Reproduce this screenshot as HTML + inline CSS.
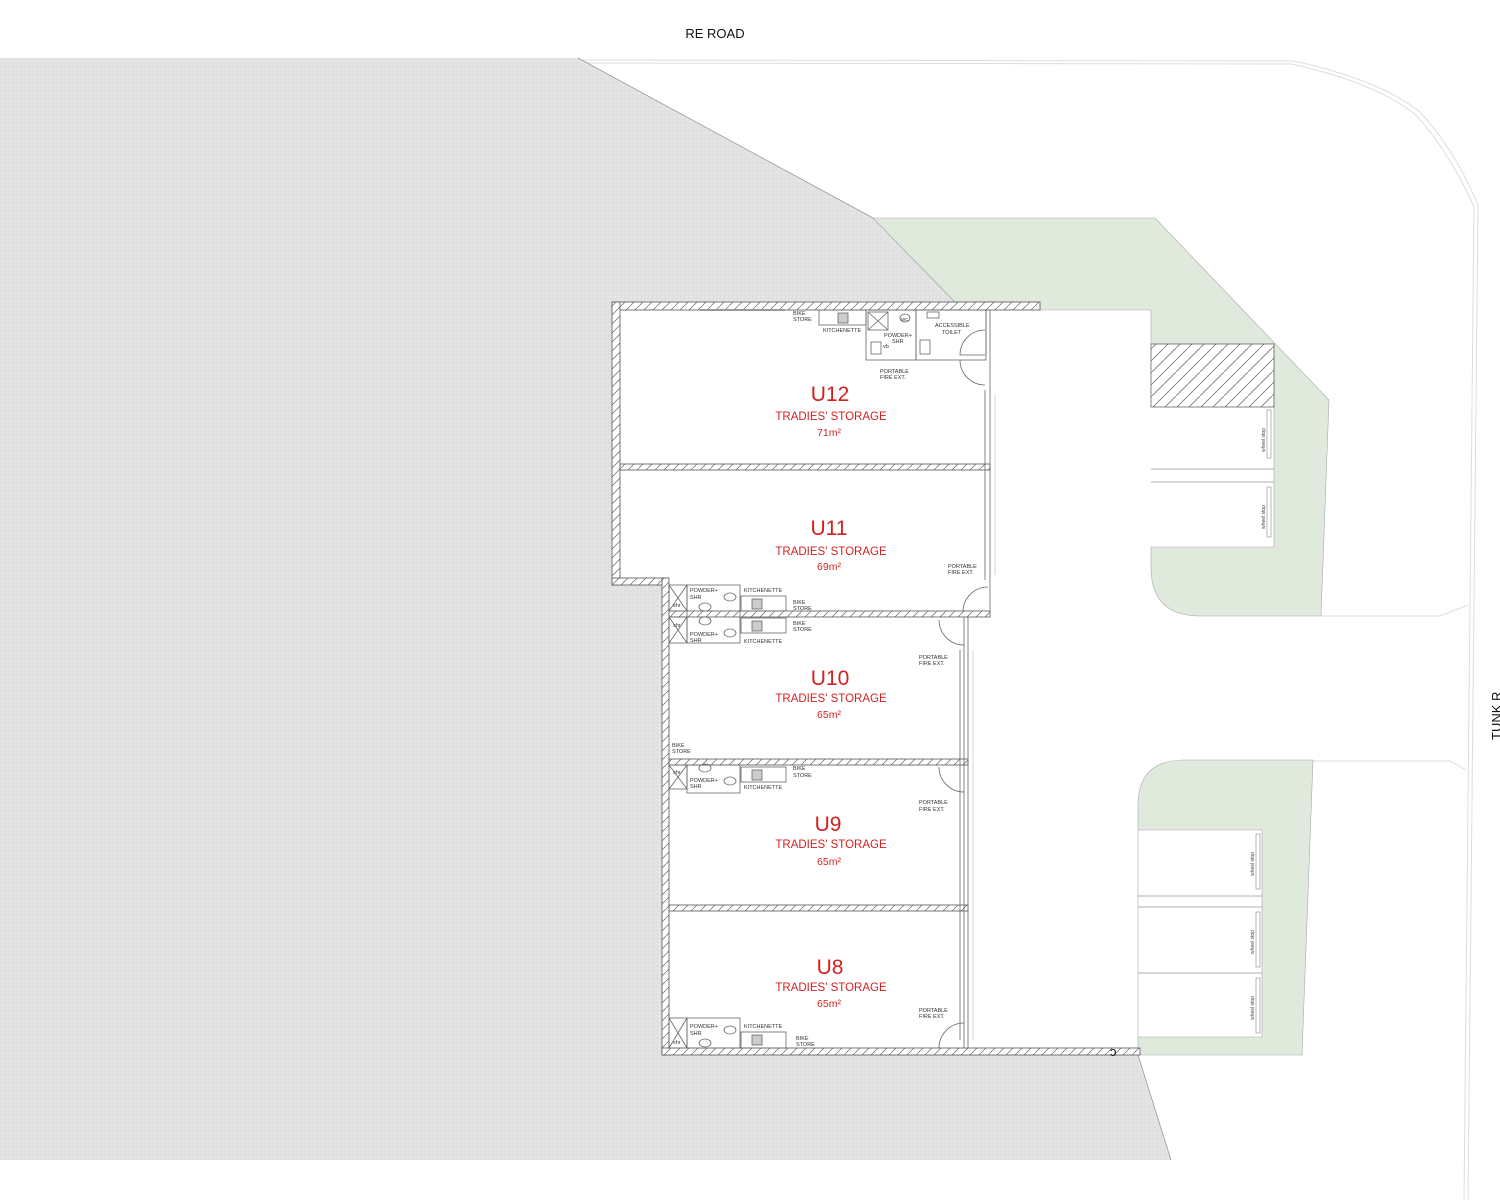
<!DOCTYPE html>
<html><head><meta charset="utf-8"><style>
html,body{margin:0;padding:0;background:#fff;}
svg{display:block;}
text{font-family:"Liberation Sans",sans-serif;}
.s{font-size:5.5px;fill:#333;}
.u{font-size:21px;fill:#d42020;}
.t{font-size:11.5px;fill:#d42020;}
.a{font-size:10.5px;fill:#d42020;}
</style></head><body>
<svg width="1500" height="1200" viewBox="0 0 1500 1200" xmlns="http://www.w3.org/2000/svg">
<defs>
<pattern id="gr" width="4" height="4" patternUnits="userSpaceOnUse">
<rect width="4" height="4" fill="#e7e7e7"/>
<path d="M0 0L4 4M0 2L2 4" stroke="#d8d8d8" stroke-width="0.6"/>
</pattern>
<pattern id="h" width="9" height="9" patternUnits="userSpaceOnUse">
<rect width="9" height="9" fill="#fff"/>
<path d="M0 9L9 0" stroke="#666" stroke-width="0.7"/>
</pattern>
<pattern id="h2" width="12" height="12" patternUnits="userSpaceOnUse">
<rect width="12" height="12" fill="#fff"/>
<path d="M0 12L12 0" stroke="#777" stroke-width="0.8"/>
</pattern>
</defs>
<rect width="1500" height="1200" fill="#fff"/>
<text x="715" y="38" text-anchor="middle" font-size="13" fill="#111">RE ROAD</text>
<text transform="translate(1501,740) rotate(-90)" font-size="13" fill="#111">TUNK R</text>

<!-- road lines -->
<g fill="none" stroke="#ddd" stroke-width="1">
<path d="M578 60 L1294 61 Q1380 80 1420 112 Q1455 150 1478 205 L1468 1200"/>
<path d="M578 63 L1292 64 Q1376 83 1416 115 Q1450 153 1474 207 L1464 1200"/>
<path d="M1321 616 L1440 616 L1468 605"/>
<path d="M1313 761 L1450 761 L1466 770"/>
</g>

<!-- gray site -->
<polygon points="0,58 578,58 873,218 955,302 612,302 612,585 662,585 662,1055 1138,1055 1171,1160 0,1160" fill="url(#gr)"/>
<path d="M578 58 L873 218 L955 302" stroke="#999" fill="none" stroke-width="0.8"/>
<path d="M1138 1055 L1171 1160" stroke="#999" fill="none" stroke-width="0.8"/>

<!-- green areas -->
<path d="M873 218 L1155 218 L1329 400 L1321 616 L1200 616 Q1151 616 1151 567 L1151 547 L1274 547 L1274 344 L1151 344 L1151 310 L1040 310 L1040 302 L955 302 Z" fill="#dfe9dc" stroke="#aaa" stroke-width="0.6"/>
<rect x="1151" y="344" width="123" height="63" fill="url(#h2)" stroke="#666" stroke-width="0.8"/>
<path d="M1138 1055 L1138 806 Q1138 760 1184 760 L1313 760 L1302 1055 Z M1138 1037 L1262 1037 L1262 830 L1138 830 Z" fill="#dfe9dc" fill-rule="evenodd" stroke="#aaa" stroke-width="0.6"/>
<g stroke="#999" stroke-width="0.7">
<line x1="1151" y1="469" x2="1274" y2="469"/><line x1="1151" y1="482" x2="1274" y2="482"/>
<line x1="1138" y1="896" x2="1262" y2="896"/><line x1="1138" y1="907" x2="1262" y2="907"/><line x1="1138" y1="973" x2="1262" y2="973"/>
</g>
<g fill="none" stroke="#888" stroke-width="0.6">
<rect x="1267" y="410" width="4" height="48"/><rect x="1267" y="487" width="4" height="50"/>
<rect x="1256" y="834" width="4" height="55"/><rect x="1256" y="912" width="4" height="55"/><rect x="1256" y="978" width="4" height="55"/>
</g>
<g font-size="5" fill="#444">
<text transform="translate(1265,440) rotate(-90)" text-anchor="middle">wheel stop</text>
<text transform="translate(1265,517) rotate(-90)" text-anchor="middle">wheel stop</text>
<text transform="translate(1254,864) rotate(-90)" text-anchor="middle">wheel stop</text>
<text transform="translate(1254,942) rotate(-90)" text-anchor="middle">wheel stop</text>
<text transform="translate(1254,1008) rotate(-90)" text-anchor="middle">wheel stop</text>
</g>

<!-- building interior white -->
<rect x="620" y="310" width="366" height="270" fill="#fff"/>
<rect x="669" y="580" width="296" height="470" fill="#fff"/>

<!-- walls -->
<g stroke="#555" stroke-width="0.8" fill="url(#h)">
<rect x="612" y="302" width="428" height="8"/>
<rect x="612" y="302" width="8" height="283"/>
<rect x="612" y="578" width="56" height="7"/>
<rect x="662" y="578" width="7" height="477"/>
<rect x="662" y="1048" width="478" height="7"/>
<rect x="620" y="464" width="370" height="6"/>
<rect x="669" y="611" width="321" height="6"/>
<rect x="669" y="759" width="299" height="6"/>
<rect x="669" y="905" width="299" height="6"/>
</g>
<g stroke="#666" stroke-width="0.8" fill="none">
<line x1="986" y1="310" x2="986" y2="355"/><line x1="990" y1="310" x2="990" y2="612"/>
<line x1="985" y1="390" x2="985" y2="580"/><line x1="995" y1="395" x2="995" y2="575" stroke="#ccc"/>
<line x1="964" y1="617" x2="964" y2="1048"/><line x1="968" y1="617" x2="968" y2="1048"/>
<line x1="960" y1="650" x2="960" y2="1040"/><line x1="973" y1="650" x2="973" y2="1040" stroke="#ccc"/>
<path d="M985 330 A25 25 0 0 0 960 355 L985 355"/><path d="M985 385 A25 25 0 0 1 960 360"/>
<path d="M988 587 A25 25 0 0 0 963 612"/>
<path d="M964 645 A25 25 0 0 1 939 620"/>
<path d="M964 792 A25 25 0 0 1 939 767"/>
<path d="M964 1023 A25 25 0 0 0 939 1048"/>
<line x1="700" y1="310" x2="785" y2="310" stroke="#999" stroke-width="2"/>
<rect x="819" y="310" width="47" height="15"/><rect x="838" y="313" width="10" height="10" fill="#ccc"/>
<rect x="866" y="310" width="50" height="50"/><path d="M868 312 L888 330 M888 312 L868 330" />
<rect x="868" y="312" width="20" height="18"/>
<rect x="916" y="310" width="70" height="50"/>
<ellipse cx="905" cy="318" rx="5" ry="4"/><rect x="920" y="340" width="10" height="14"/><rect x="927" y="312" width="12" height="6"/>
<rect x="871" y="342" width="10" height="12"/>
<rect x="669" y="585" width="18" height="26"/><path d="M669 585L687 611M687 585L669 611"/>
<rect x="669" y="617" width="18" height="26"/><path d="M669 617L687 643M687 617L669 643"/>
<rect x="687" y="585" width="53" height="58"/>
<rect x="741" y="596" width="45" height="15"/><rect x="752" y="599" width="10" height="10" fill="#ccc"/>
<rect x="741" y="618" width="45" height="15"/><rect x="752" y="621" width="10" height="10" fill="#ccc"/>
<ellipse cx="730" cy="597" rx="6" ry="4"/><ellipse cx="730" cy="633" rx="6" ry="4"/>
<ellipse cx="705" cy="607" rx="6" ry="4"/><ellipse cx="705" cy="621" rx="6" ry="4"/>
<rect x="669" y="765" width="18" height="24"/><path d="M669 765L687 789M687 765L669 789"/>
<rect x="687" y="765" width="53" height="28"/>
<rect x="741" y="767" width="45" height="15"/><rect x="752" y="770" width="10" height="10" fill="#ccc"/>
<ellipse cx="705" cy="768" rx="6" ry="4"/><ellipse cx="730" cy="781" rx="6" ry="4"/>
<rect x="669" y="1018" width="18" height="30"/><path d="M669 1018L687 1048M687 1018L669 1048"/>
<rect x="687" y="1018" width="53" height="30"/>
<rect x="741" y="1032" width="45" height="16"/><rect x="752" y="1035" width="10" height="10" fill="#ccc"/>
<ellipse cx="730" cy="1030" rx="6" ry="4"/><ellipse cx="705" cy="1043" rx="6" ry="4"/>
</g>

<g class="s">
<text x="793" y="315">BIKE</text><text x="793" y="321">STORE</text>
<text x="823" y="332">KITCHENETTE</text>
<text x="884" y="337">POWDER+</text><text x="892" y="343">SHR</text>
<text x="883" y="348">vb</text><text x="901" y="321" font-size="4.5">WC</text>
<text x="935" y="327">ACCESSIBLE</text><text x="942" y="334">TOILET</text>
<text x="880" y="373">PORTABLE</text><text x="880" y="379">FIRE EXT.</text>
<text x="948" y="568">PORTABLE</text><text x="948" y="574">FIRE EXT.</text>
<text x="690" y="592">POWDER+</text><text x="690" y="599">SHR</text>
<text x="744" y="592">KITCHENETTE</text>
<text x="793" y="604">BIKE</text><text x="793" y="610">STORE</text>
<text x="673" y="607">shr</text><text x="673" y="627">shr</text>
<text x="793" y="625">BIKE</text><text x="793" y="631">STORE</text>
<text x="690" y="636">POWDER+</text><text x="690" y="642">SHR</text>
<text x="744" y="643">KITCHENETTE</text>
<text x="919" y="659">PORTABLE</text><text x="919" y="665">FIRE EXT.</text>
<text x="672" y="747">BIKE</text><text x="672" y="753">STORE</text>
<text x="673" y="774">shr</text>
<text x="793" y="770">BIKE</text><text x="793" y="777">STORE</text>
<text x="690" y="782">POWDER+</text><text x="690" y="788">SHR</text>
<text x="744" y="789">KITCHENETTE</text>
<text x="919" y="804">PORTABLE</text><text x="919" y="811">FIRE EXT.</text>
<text x="919" y="1012">PORTABLE</text><text x="919" y="1018">FIRE EXT.</text>
<text x="690" y="1028">POWDER+</text><text x="690" y="1035">SHR</text>
<text x="744" y="1028">KITCHENETTE</text>
<text x="796" y="1040">BIKE</text><text x="796" y="1046">STORE</text>
<text x="673" y="1044">shr</text>
</g>
<g text-anchor="middle">
<text class="u" x="830" y="401">U12</text><text class="t" x="831" y="420">TRADIES' STORAGE</text><text class="a" x="829" y="436">71m²</text>
<text class="u" x="829" y="535">U11</text><text class="t" x="831" y="555">TRADIES' STORAGE</text><text class="a" x="829" y="570">69m²</text>
<text class="u" x="830" y="685">U10</text><text class="t" x="831" y="702">TRADIES' STORAGE</text><text class="a" x="829" y="718">65m²</text>
<text class="u" x="828" y="831">U9</text><text class="t" x="831" y="848">TRADIES' STORAGE</text><text class="a" x="829" y="865">65m²</text>
<text class="u" x="830" y="974">U8</text><text class="t" x="831" y="991">TRADIES' STORAGE</text><text class="a" x="829" y="1007">65m²</text>
</g>
<text x="1110" y="1056" font-size="13" fill="#111">ↄ</text>
</svg>
</body></html>
